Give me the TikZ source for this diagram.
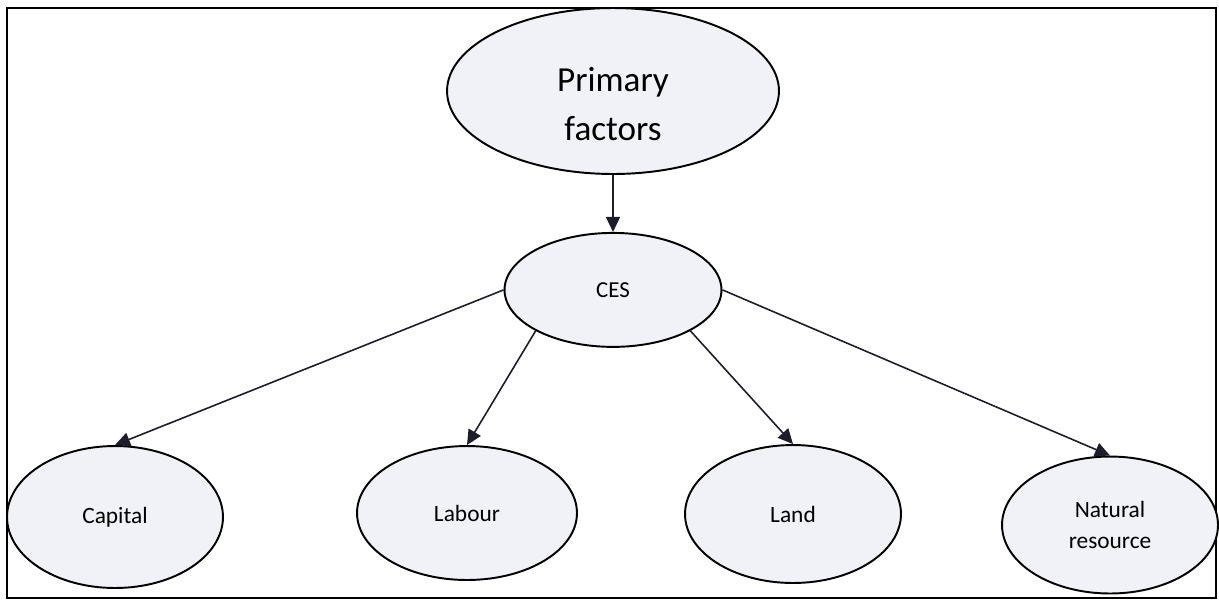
\documentclass[tikz,border=0pt]{standalone}
\usepackage{fontspec}
\setmainfont{Carlito}
\usepackage{xcolor}
\usepackage{tikz}
\usetikzlibrary{arrows.meta, positioning, shapes.geometric}

\definecolor{bubble}{RGB}{240,242,248}
\definecolor{inkline}{RGB}{28,28,42}

\begin{document}
\begin{tikzpicture}[
    x=0.02cm, y=-0.02cm,
    node distance=1.14cm,
    bubblebase/.style={draw, ellipse, fill=bubble, line width=1.1pt, inner sep=0pt, align=center},
    rootnode/.style={bubblebase, minimum width=6.64cm, minimum height=3.32cm,
                     font=\fontsize{20}{27.5}\selectfont},
    midnode/.style={bubblebase, minimum width=4.34cm, minimum height=2.28cm,
                    font=\fontsize{13}{15}\selectfont},
    leaf/.style={bubblebase, minimum width=4.32cm, minimum height=2.76cm,
                 font=\fontsize{13.3}{18}\selectfont},
    arrow/.style={-{Triangle[length=0.3cm, width=0.28cm]}, line width=0.9pt, draw=inkline, fill=inkline},
]
\useasboundingbox (0,0) rectangle (1219,606);
% outer frame
\draw[line width=1.2pt] (7,8) rectangle (1216,598);

% top and middle level
\node[rootnode] (primary) at (613,91) {\rule{0pt}{1cm}Primary\\factors};
\node[midnode, below=of primary] (ces) {CES};

% the four factors
\node[leaf, minimum height=2.84cm] (capital) at (115,517) {Capital};
\node[leaf, minimum width=4.4cm, minimum height=2.68cm] (labour) at (467,513) {Labour};
\node[leaf] (land) at (793,514) {Land};
\node[leaf, minimum height=2.74cm] (natres) at (1110,525) {Natural\\resource};

% arrows
\draw[arrow] (primary.south) -- (ces.north);
\draw[arrow] (ces.west) -- (capital.north);
\draw[arrow] (ces.south west) -- (labour.north);
\draw[arrow] (ces.south east) -- (land.north);
\draw[arrow] (ces.east) -- (natres.north);
\end{tikzpicture}
\end{document}
